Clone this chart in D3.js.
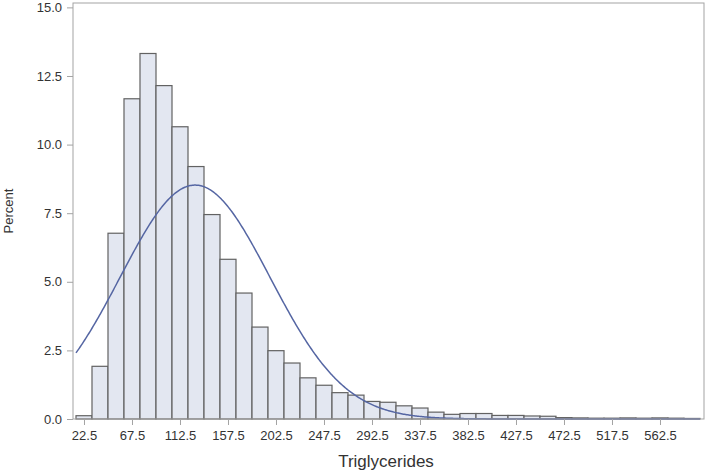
<!DOCTYPE html>
<html>
<head>
<meta charset="utf-8">
<script src="https://cdn.jsdelivr.net/npm/d3@7"></script>
<style>
  body { margin: 0; background: #fff; }
  text { font-family: "Liberation Sans", Arial, sans-serif; fill: #333; }
</style>
</head>
<body>
<div id="chart"></div>
<script>
const width = 709
const height = 473

// bin midpoints (bin width 15) and percent per bin
const binMids = [22.5, 37.5, 52.5, 67.5, 82.5, 97.5, 112.5, 127.5, 142.5, 157.5,
  172.5, 187.5, 202.5, 217.5, 232.5, 247.5, 262.5, 277.5, 292.5, 307.5,
  322.5, 337.5, 352.5, 367.5, 382.5, 397.5, 412.5, 427.5, 442.5, 457.5,
  472.5, 487.5, 502.5, 517.5, 532.5, 547.5, 562.5, 577.5, 592.5]
const percents = [0.12, 1.92, 6.77, 11.67, 13.32, 12.15, 10.65, 9.2, 7.45, 5.82,
  4.59, 3.35, 2.49, 2.04, 1.5, 1.23, 0.96, 0.87, 0.64, 0.61,
  0.48, 0.4, 0.25, 0.17, 0.2, 0.2, 0.13, 0.13, 0.11, 0.1,
  0.05, 0.04, 0.03, 0.03, 0.04, 0.03, 0.04, 0.03, 0.02]
const binWidth = 15

// fitted normal curve parameters
const normalMu = 126.6
const normalSigma = 70.2

const xTicks = [22.5, 67.5, 112.5, 157.5, 202.5, 247.5, 292.5, 337.5, 382.5, 427.5, 472.5, 517.5, 562.5]
const yTicks = [0, 2.5, 5, 7.5, 10, 12.5, 15]

const plotLeft = 73, plotRight = 704, plotTop = 3, plotBottom = 419

const svg = d3.select("#chart")
  .append("svg")
  .attr("width", width)
  .attr("height", height)

const x = d3.scaleLinear()
  .domain([12.19, 603.75])
  .range([plotLeft, plotRight])

const y = d3.scaleLinear()
  .domain([0, 15.16])
  .range([plotBottom, plotTop])

const bins = binMids.map((m, i) => ({ x0: m - binWidth / 2, x1: m + binWidth / 2, v: percents[i] }))

// bars
svg.append("g")
  .selectAll("rect")
  .data(bins)
  .join("rect")
  .attr("x", d => x(d.x0))
  .attr("y", d => y(d.v))
  .attr("width", d => x(d.x1) - x(d.x0))
  .attr("height", d => y(0) - y(d.v))
  .attr("fill", "#e3e7f1")
  .attr("stroke", "#626262")
  .attr("stroke-width", 1.2)

// normal density curve, scaled to percent per bin
const curvePts = d3.range(bins[0].x0, bins[bins.length - 1].x1 + 0.1, 1).map(t => {
  const z = (t - normalMu) / normalSigma
  return [t, binWidth * 100 / (normalSigma * Math.sqrt(2 * Math.PI)) * Math.exp(-0.5 * z * z)]
})

svg.append("path")
  .datum(curvePts)
  .attr("fill", "none")
  .attr("stroke", "#5566a3")
  .attr("stroke-width", 1.5)
  .attr("d", d3.line().x(d => x(d[0])).y(d => y(d[1])))

// frame
svg.append("rect")
  .attr("x", plotLeft)
  .attr("y", plotTop)
  .attr("width", plotRight - plotLeft)
  .attr("height", plotBottom - plotTop)
  .attr("fill", "none")
  .attr("stroke", "#a3a3a3")
  .attr("stroke-width", 1)

const xAxis = svg.append("g")
  .attr("transform", `translate(0,${plotBottom})`)
  .call(d3.axisBottom(x).tickValues(xTicks).tickFormat(d3.format(".1f")).tickSize(6).tickPadding(6))
xAxis.select(".domain").remove()
xAxis.selectAll("line").attr("stroke", "#a3a3a3")
xAxis.selectAll("text").attr("font-size", 13).attr("fill", "#333")

const yAxis = svg.append("g")
  .attr("transform", `translate(${plotLeft},0)`)
  .call(d3.axisLeft(y).tickValues(yTicks).tickFormat(d3.format(".1f")).tickSize(6).tickPadding(5))
yAxis.select(".domain").remove()
yAxis.selectAll("line").attr("stroke", "#a3a3a3")
yAxis.selectAll("text").attr("font-size", 13).attr("fill", "#333")

svg.append("text")
  .attr("x", 386)
  .attr("y", 467)
  .attr("text-anchor", "middle")
  .attr("font-size", 17)
  .text("Triglycerides")

svg.append("text")
  .attr("transform", `translate(13,${(plotTop + plotBottom) / 2}) rotate(-90)`)
  .attr("text-anchor", "middle")
  .attr("font-size", 13)
  .text("Percent")
</script>
</body>
</html>
